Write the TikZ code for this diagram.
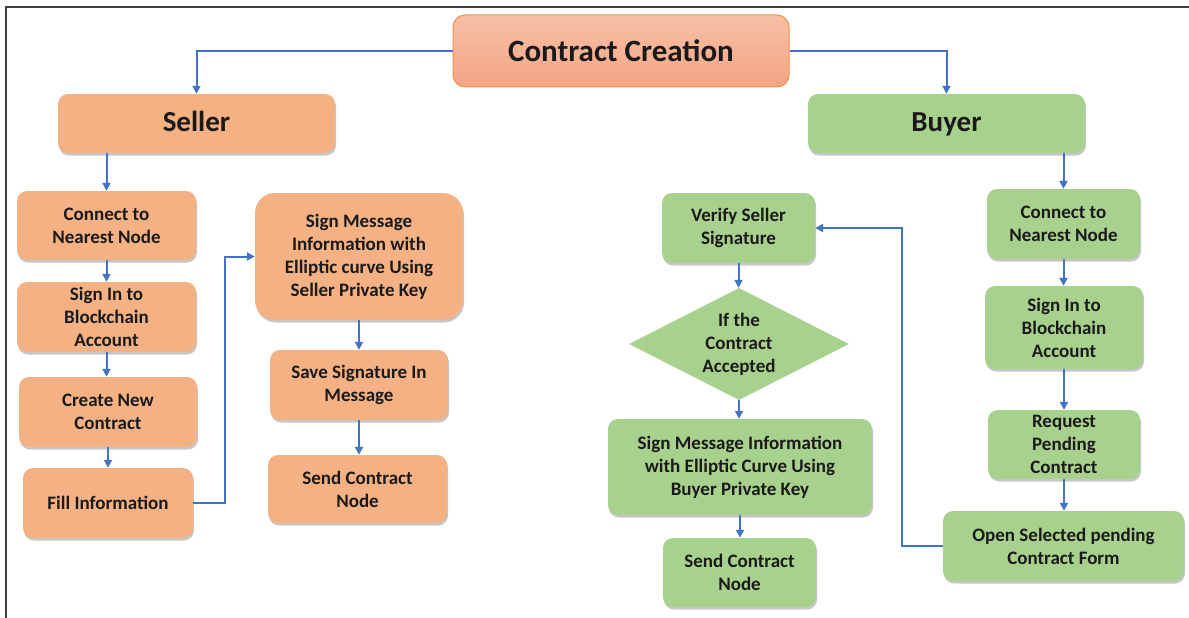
\documentclass[tikz,border=0pt]{standalone}
\usepackage{fontspec}
\setmainfont{Carlito}
\usetikzlibrary{shapes.geometric,shadows,arrows.meta}
\definecolor{orangefill}{HTML}{F4B183}
\definecolor{greenfill}{HTML}{A9D18E}
\definecolor{arrowblue}{HTML}{4472C4}
\definecolor{cctop}{HTML}{F7C0A6}
\definecolor{ccbot}{HTML}{F4A584}
\definecolor{ccdraw}{HTML}{EE9150}
\definecolor{txt}{HTML}{1A1A1A}
\tikzset{
  boxbase/.style={rounded corners=10pt, align=center, inner sep=2pt, text=txt,
    font=\bfseries\fontsize{19}{23}\selectfont,
    drop shadow={shadow xshift=1pt, shadow yshift=-2.5pt, opacity=0.22, fill=black}},
  obox/.style={boxbase, fill=orangefill, draw=none},
  gbox/.style={boxbase, fill=greenfill, draw=none},
  headfont/.style={font=\bfseries\fontsize{29}{32}\selectfont, text height=20pt, text depth=4pt},
  conn/.style={draw=arrowblue, line width=2pt, -{Triangle[length=8pt,width=8pt]}},
}
\begin{document}
\begin{tikzpicture}[x=1pt,y=-1pt]
\useasboundingbox (0,0) rectangle (1189,618);
\fill[white] (0,0) rectangle (1189,618);
\draw[line width=1.5pt, black!75] (6,618) -- (6,7) -- (1189,7);

% top
\node[rounded corners=12pt, top color=cctop, bottom color=ccbot, draw=ccdraw, line width=1pt,
  minimum width=336pt, minimum height=72pt, text=txt, font=\bfseries\fontsize{31}{34}\selectfont]
  (cc) at (621,51) {Contract Creation};
\node[obox, headfont, minimum width=277pt, minimum height=59pt] (seller) at (196.5,123.5) {Seller};
\node[gbox, headfont, minimum width=277pt, minimum height=59pt] (buyer) at (946.5,123.5) {Buyer};

% seller column
\node[obox, minimum width=179pt, minimum height=69pt] (s1) at (106.5,225.5) {Connect to\\Nearest Node};
\node[obox, minimum width=179pt, minimum height=70pt] (s2) at (106.5,317) {Sign In to\\Blockchain\\Account};
\node[obox, minimum width=178pt, minimum height=70pt] (s3) at (108,412) {Create New\\Contract};
\node[obox, minimum width=170pt, minimum height=70pt] (s4) at (108,503) {Fill Information};
\node[obox, rounded corners=20pt, minimum width=208pt, minimum height=127pt] (s5) at (359,256.5) {Sign Message\\Information with\\Elliptic curve Using\\Seller Private Key};
\node[obox, minimum width=178pt, minimum height=70pt] (s6) at (359,385) {Save Signature In\\Message};
\node[obox, minimum width=179pt, minimum height=68pt] (s7) at (357.5,489) {Send Contract\\Node};

% buyer column
\node[gbox, minimum width=153pt, minimum height=70pt] (v1) at (738.5,228) {Verify Seller\\Signature};
\node[diamond, fill=greenfill, inner sep=0pt, aspect=1.96, minimum width=220pt, minimum height=112pt,
  align=center, text=txt, font=\bfseries\fontsize{19}{23}\selectfont] (dec) at (739,344) {If the\\Contract\\Accepted};
\node[gbox, minimum width=264pt, minimum height=96pt] (v2) at (740,467) {Sign Message Information\\with Elliptic Curve Using\\Buyer Private Key};
\node[gbox, minimum width=153pt, minimum height=69pt] (v3) at (739.5,572.5) {Send Contract\\Node};

\node[gbox, minimum width=153pt, minimum height=70pt] (b1) at (1063.5,224) {Connect to\\Nearest Node};
\node[gbox, minimum width=158pt, minimum height=83pt] (b2) at (1064,327.5) {Sign In to\\Blockchain\\Account};
\node[gbox, minimum width=152pt, minimum height=69pt] (b3) at (1064,444.5) {Request\\Pending\\Contract};
\node[gbox, minimum width=241pt, minimum height=70pt] (b4) at (1063.5,546) {Open Selected pending\\Contract Form};

\coordinate (ex1) at (225,0);
\coordinate (ex2) at (902,0);

% connectors
\draw[conn] (cc.west) -| (seller.north);
\draw[conn] (cc.east) -| (buyer.north);
\draw[conn] (seller.south -| s1.north) -- (s1.north);
\draw[conn] (s1.south) -- (s1.south |- s2.north);
\draw[conn] (s2.south) -- (s2.south |- s3.north);
\draw[conn] (s3.south) -- (s3.south |- s4.north);
\draw[conn] (s4.east) -- (s4.east -| ex1) |- (s5.west);
\draw[conn] (s5.south) -- (s5.south |- s6.north);
\draw[conn] (s6.south) -- (s6.south |- s7.north);

\draw[conn] (buyer.south -| b1.north) -- (b1.north);
\draw[conn] (b1.south) -- (b1.south |- b2.north);
\draw[conn] (b2.south) -- (b2.south |- b3.north);
\draw[conn] (b3.south) -- (b3.south |- b4.north);
\draw[conn] (b4.west) -- (b4.west -| ex2) |- (v1.east);
\draw[conn] (v1.south) -- (v1.south |- dec.north);
\draw[conn] (dec.south) -- (dec.south |- v2.north);
\draw[conn] (v2.south) -- (v2.south |- v3.north);
\end{tikzpicture}
\end{document}
